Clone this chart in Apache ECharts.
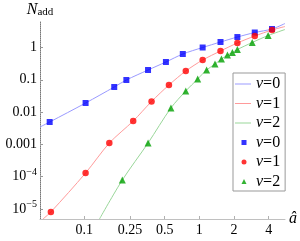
<!DOCTYPE html>
<html><head><meta charset="utf-8">
<script src="https://cdn.jsdelivr.net/npm/echarts@6/dist/echarts.min.js"></script>
<style>html,body{margin:0;padding:0;background:#fff}#c{width:300px;height:241px}</style>
</head><body><div id="c"></div>
<script>
// tick labels
const xTicks = [0.1, 0.25, 0.5, 1, 2, 4];
const yTicks = [1e-5, 1e-4, 1e-3, 0.01, 0.1, 1];
const legendNames = ['ν=0', 'ν=1', 'ν=2'];

// markers
const sqX = [0.05, 0.1026, 0.182, 0.232, 0.358, 0.512, 0.718, 1.068, 1.527, 2.14, 3.03, 4.28];
const sqY = [0.00493, 0.0191, 0.0598, 0.0986, 0.201, 0.356, 0.629, 1.0, 1.48, 2.11, 2.91, 3.74];
const ciX = [0.0512, 0.1026, 0.165, 0.266, 0.384, 0.544, 0.762, 1.068, 1.527, 2.14, 3.03, 4.28];
const ciY = [8.07e-6, 1.30e-4, 1.10e-3, 5.3e-3, 0.0213, 0.069, 0.187, 0.41, 0.78, 1.38, 2.27, 3.48];
const trX = [0.214, 0.358, 0.566, 0.762, 0.967, 1.156, 1.368, 1.556, 1.754, 1.937, 2.14, 2.88, 3.96];
const trY = [7.9e-5, 1.10e-3, 0.0134, 0.045, 0.106, 0.201, 0.308, 0.44, 0.586, 0.70, 0.867, 1.43, 2.35];

// curves
const l0X = [0.0412, 0.05, 0.1026, 0.182, 0.232, 0.358, 0.512, 0.718, 1.068, 1.527, 2.14, 3.03, 4.28, 5.55];
const l0Y = [0.00346, 0.00493, 0.0191, 0.0598, 0.0986, 0.201, 0.356, 0.629, 1.0, 1.48, 2.11, 2.91, 3.74, 5.53];
const l1X = [0.0437, 0.0512, 0.1026, 0.165, 0.266, 0.384, 0.544, 0.762, 1.068, 1.527, 2.14, 3.03, 4.28, 5.55];
const l1Y = [4.9e-6, 8.07e-6, 1.30e-4, 1.10e-3, 5.3e-3, 0.0213, 0.069, 0.187, 0.41, 0.78, 1.38, 2.27, 3.48, 4.47];
const l2X = [0.1355, 0.214, 0.358, 0.566, 0.762, 0.967, 1.156, 1.368, 1.556, 1.754, 1.937, 2.14, 2.88, 3.96, 5.55];
const l2Y = [4.9e-6, 7.9e-5, 1.10e-3, 0.0134, 0.045, 0.106, 0.201, 0.308, 0.44, 0.586, 0.70, 0.867, 1.43, 2.35, 3.61];

const zip = (a, b) => a.map((v, i) => [v, b[i]]);
const FONT = 'Liberation Serif';
const lineCols = ['#9a9aff', '#ff9a9a', '#99d699'];
const markCols = ['#0000ff', '#ff0000', '#00a000'];

const chart = echarts.init(document.getElementById('c'), null, {renderer: 'canvas'});
const legendFmt = name => '{i|ν}=' + name.slice(-1);
const richI = {fontStyle: 'italic', fontFamily: FONT, fontSize: 16, lineHeight: 16, color: '#000'};

chart.setOption({
  animation: false,
  backgroundColor: '#fff',
  grid: {left: 40, right: 13, top: 22, bottom: 22, containLabel: false},
  xAxis: {
    type: 'log', logBase: 10, min: 0.0412, max: 5.55,
    name: 'â', nameLocation: 'end', nameGap: 4,
    nameTextStyle: {fontFamily: FONT, fontStyle: 'italic', fontSize: 16, color: '#000', verticalAlign: 'middle'},
    axisLine: {show: true, lineStyle: {color: '#c0c0c0', width: 1}},
    axisTick: {show: true, inside: true, length: 3, lineStyle: {color: '#b0b0b0'}, customValues: xTicks},
    axisLabel: {show: true, margin: 4, fontFamily: FONT, fontSize: 14, color: '#000', customValues: xTicks,
      formatter: v => String(+v.toPrecision(3))},
    splitLine: {show: false}, minorTick: {show: false}
  },
  yAxis: {
    type: 'log', logBase: 10, min: 4.9e-6, max: 6.16,
    name: '{n|N}{s|add}', nameLocation: 'end', nameGap: 4,
    nameTextStyle: {rich: {
      n: {fontFamily: FONT, fontStyle: 'italic', fontSize: 16, color: '#000'},
      s: {fontFamily: FONT, fontSize: 11, color: '#000', padding: [6, 0, 0, 0]}
    }},
    axisLine: {show: true, lineStyle: {color: '#777', width: 1, type: 'dotted'}},
    axisTick: {show: true, inside: true, length: 3, lineStyle: {color: '#999'}, customValues: yTicks},
    axisLabel: {show: true, margin: 3, fontFamily: FONT, fontSize: 14, color: '#000', customValues: yTicks,
      formatter: v => {
        const e = Math.round(Math.log10(v));
        if (e >= -3) return e >= 0 ? String(Math.pow(10, e)) : (Math.pow(10, e)).toFixed(-e);
        return '10{s|−' + (-e) + '}';
      },
      rich: {s: {fontFamily: FONT, fontSize: 10, color: '#000', padding: [0, 0, 9, 0]}}
    },
    splitLine: {show: false}
  },
  legend: [
    {
      data: ['l0', 'l1', 'l2'], orient: 'vertical', left: 233, top: 73,
      padding: [3, 5, 60, 2], itemWidth: 16, itemHeight: 1, itemGap: 3.5, icon: 'rect',
      borderColor: '#999', borderWidth: 1, backgroundColor: '#fff',
      formatter: legendFmt,
      textStyle: {fontFamily: FONT, fontSize: 16, lineHeight: 16, color: '#000', rich: {i: richI}},
      selectedMode: false
    },
    {
      data: [{name: 'm0', icon: 'rect'}, {name: 'm1', icon: 'circle'}, {name: 'm2', icon: 'triangle'}],
      orient: 'vertical', left: 241.5, top: 134.5, padding: 0,
      itemWidth: 5, itemHeight: 5, itemGap: 3.5,
      formatter: legendFmt,
      textStyle: {fontFamily: FONT, fontSize: 16, lineHeight: 16, color: '#000',
        rich: {i: Object.assign({}, richI, {padding: [0, 0, 0, 4.5]})}},
      selectedMode: false
    }
  ],
  series: [
    {name: 'l0', type: 'line', data: zip(l0X, l0Y), smooth: 0.3, symbol: 'none', color: lineCols[0], lineStyle: {width: 1}, z: 2},
    {name: 'l1', type: 'line', data: zip(l1X, l1Y), smooth: 0.3, symbol: 'none', color: lineCols[1], lineStyle: {width: 1}, z: 2},
    {name: 'l2', type: 'line', data: zip(l2X, l2Y), smooth: 0.3, symbol: 'none', color: lineCols[2], lineStyle: {width: 1}, z: 2},
    {name: 'm0', type: 'scatter', data: zip(sqX, sqY), symbol: 'rect', symbolSize: 6, color: markCols[0], z: 3},
    {name: 'm1', type: 'scatter', data: zip(ciX, ciY), symbol: 'circle', symbolSize: 6.5, color: markCols[1], z: 3},
    {name: 'm2', type: 'scatter', data: zip(trX, trY), symbol: 'triangle', symbolSize: 7, color: markCols[2], z: 3}
  ]
});
</script></body></html>
